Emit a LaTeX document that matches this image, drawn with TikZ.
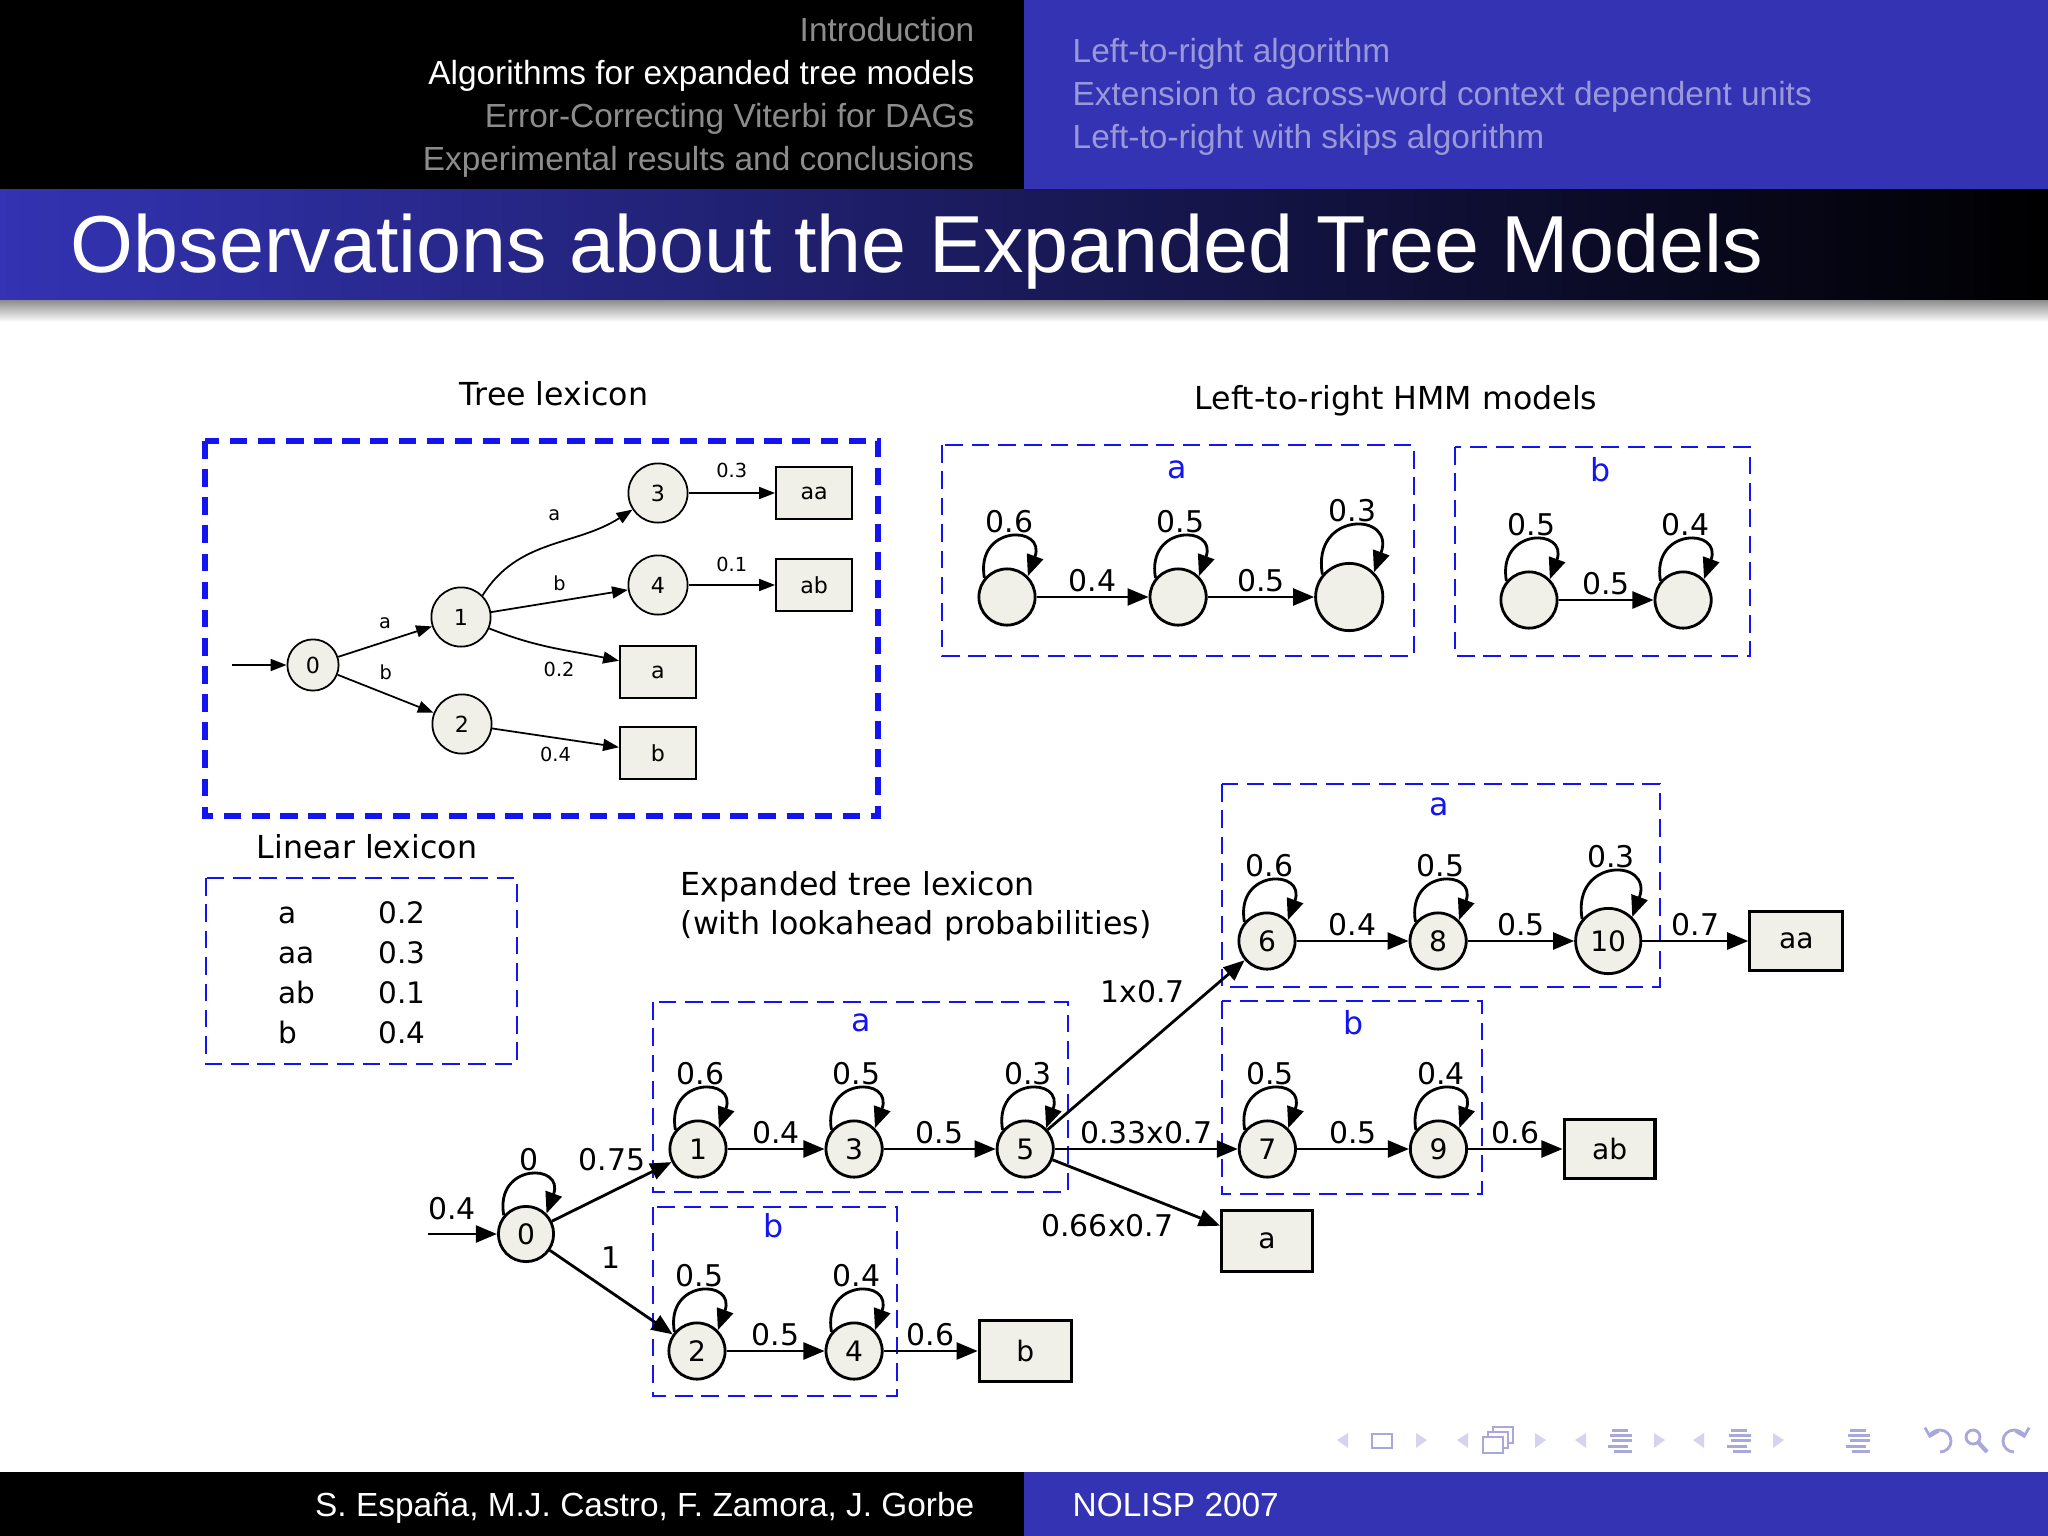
\documentclass[tikz,border=0pt]{standalone}
\usepackage{fontspec}
\setmainfont{DejaVu Sans}
\newfontfamily\slidefont{Liberation Sans}
\usetikzlibrary{arrows.meta, positioning, calc}
\definecolor{slideblue}{HTML}{3333B3}
\definecolor{boxblue}{HTML}{1414F0}
\definecolor{statefill}{HTML}{F0F0E8}
\definecolor{headgray}{HTML}{8C8C8C}
\definecolor{headlav}{HTML}{9999D9}
\definecolor{navlight}{HTML}{D4D4EE}
\definecolor{navdark}{HTML}{A8A8DA}
\tikzset{
  hdrtext/.style={font=\slidefont\fontsize{9.5}{11}\selectfont, inner sep=0pt},
  slidetitle/.style={font=\slidefont\fontsize{23}{26}\selectfont, text=white, inner sep=0pt},
  figtitle/.style={font=\fontsize{9}{11}\selectfont, inner sep=0pt},
  treestate/.style={circle, draw=black, line width=0.5pt, fill=statefill, minimum size=0.592cm,
    inner sep=0pt, font=\fontsize{6.3}{7}\selectfont},
  treeword/.style={rectangle, draw=black, line width=0.6pt, fill=statefill, minimum width=0.76cm,
    minimum height=0.52cm, inner sep=0pt, font=\fontsize{6.3}{7}\selectfont},
  treearrow/.style={-{Triangle[length=4.5pt, width=3.4pt]}, line width=0.5pt},
  treelabel/.style={font=\fontsize{5.5}{6}\selectfont, inner sep=1pt},
  hmmstate/.style={circle, draw=black, line width=0.8pt, fill=statefill, minimum size=0.562cm,
    inner sep=0pt, font=\fontsize{8}{9}\selectfont},
  hmmword/.style={rectangle, draw=black, line width=0.9pt, fill=statefill, minimum width=0.918cm,
    minimum height=0.59cm, inner sep=0pt, font=\fontsize{8}{9}\selectfont},
  hmmarrow/.style={-{Triangle[length=6pt, width=4.8pt]}, line width=0.8pt},
  hmmlabel/.style={font=\fontsize{8.5}{9}\selectfont, inner sep=1pt},
  unitlabel/.style={font=\fontsize{9}{10}\selectfont, text=boxblue, inner sep=0pt},
  selfloop/.style={out=100, in=70, looseness=3.2},
  unitbox/.style={draw=boxblue, line width=0.6pt, dash pattern=on 5pt off 2.5pt},
  lexbox/.style={draw=boxblue, line width=1.5pt, dash pattern=on 5pt off 3pt},
}
\begin{document}
\begin{tikzpicture}[x=0.01cm, y=0.01cm]
  \useasboundingbox (0,0) rectangle (2048,-1536);
  \fill[white] (0,0) rectangle (2048,-1536);

  % head line and frame title
  \fill[black] (0,0) rectangle (1024,-189);
  \fill[slideblue] (1024,0) rectangle (2048,-189);
  \node[hdrtext, text=headgray, anchor=base east] (sec1) at (975,-41) {Introduction};
  \node[hdrtext, text=white, anchor=base east] (sec2) at (975,-84) {Algorithms for expanded tree models};
  \node[hdrtext, text=headgray, anchor=base east] (sec3) at (975,-127) {Error-Correcting Viterbi for DAGs};
  \node[hdrtext, text=headgray, anchor=base east] (sec4) at (975,-170) {Experimental results and conclusions};
  \node[hdrtext, text=headlav, anchor=base west] (sub1) at (1072,-62) {Left-to-right algorithm};
  \node[hdrtext, text=headlav, anchor=base west] (sub2) at (1072,-105) {Extension to across-word context dependent units};
  \node[hdrtext, text=headlav, anchor=base west] (sub3) at (1072,-148) {Left-to-right with skips algorithm};
  \shade[left color=slideblue, right color=black] (0,-189) rectangle (2048,-300);
  \shade[top color=black!45, bottom color=white] (0,-300) rectangle (2048,-322);
  \node[slidetitle, anchor=base west] (title) at (70,-272) {Observations about the Expanded Tree Models};

  % tree lexicon
  \node[figtitle, anchor=base] (treetitle) at (554,-405) {Tree lexicon};
  \draw[lexbox] (205,-441) rectangle (878,-816);
  \coordinate (tin) at (232,-665);
  \node[treestate, minimum size=0.512cm] (t0) at (313,-665) {0};
  \node[treestate] (t1) at (461,-617) {1};
  \node[treestate] (t2) at (462,-724) {2};
  \node[treestate] (t3) at (658,-493) {3};
  \node[treestate] (t4) at (658,-585) {4};
  \node[treeword, right=0.865cm of t3] (taa) {aa};
  \node[treeword, right=0.865cm of t4] (tab) {ab};
  \node[treeword] (ta) at (658,-672) {a};
  \node[treeword] (tb) at (658,-753) {b};
  \draw[treearrow] (tin) -- (t0);
  \draw[treearrow] (t0) -- node[treelabel, above=2.4pt] {a} (t1);
  \draw[treearrow] (t0) -- node[treelabel, above=2.8pt] {b} (t2);
  \draw[treearrow] (t1.45) to[out=58, in=213] node[treelabel, pos=0.53, above=5pt] {a} (t3);
  \draw[treearrow] (t1) -- node[treelabel, above=1.7pt] {b} (t4);
  \draw[treearrow] (t1) to[out=-22, in=168] node[treelabel, pos=0.55, below=2.4pt] {0.2} (ta.164);
  \draw[treearrow] (t2) -- node[treelabel, below=1.5pt] {0.4} (tb);
  \draw[treearrow] (t3) -- node[treelabel, above=3pt] {0.3} (taa);
  \draw[treearrow] (t4) -- node[treelabel, above=2.4pt] {0.1} (tab);

  % left-to-right HMM models
  \node[figtitle, anchor=base] (hmmtitle) at (1396,-409) {Left-to-right HMM models};
  \draw[unitbox] (942,-445) rectangle (1414,-656);
  \draw[unitbox] (1455,-447) rectangle (1750,-656);
  \node[unitlabel] (hmmla) at (1177,-470) {a};
  \node[unitlabel] (hmmlb) at (1601,-470) {b};
  \node[hmmstate] (ha1) at (1007,-597) {};
  \node[hmmstate, right=1.12cm of ha1] (ha2) {};
  \node[hmmstate, minimum size=0.672cm, right=1.065cm of ha2] (ha3) {};
  \node[hmmstate] (hb1) at (1529,-600) {};
  \node[hmmstate, right=0.95cm of hb1] (hb2) {};
  \draw[hmmarrow] (ha1.140) to[selfloop] node[hmmlabel, above] {0.6} (ha1.45);
  \draw[hmmarrow] (ha2.140) to[selfloop] node[hmmlabel, above] {0.5} (ha2.45);
  \draw[hmmarrow] (ha3.140) to[selfloop] node[hmmlabel, above] {0.3} (ha3.45);
  \draw[hmmarrow] (hb1.140) to[selfloop] node[hmmlabel, above] {0.5} (hb1.45);
  \draw[hmmarrow] (hb2.140) to[selfloop] node[hmmlabel, above] {0.4} (hb2.45);
  \draw[hmmarrow] (ha1) -- node[hmmlabel, above] {0.4} (ha2);
  \draw[hmmarrow] (ha2) -- node[hmmlabel, above] {0.5} (ha3);
  \draw[hmmarrow] (hb1) -- node[hmmlabel, above] {0.5} (hb2);

  % linear lexicon
  \node[figtitle, anchor=base] (lintitle) at (367,-858) {Linear lexicon};
  \draw[unitbox] (206,-878) rectangle (517,-1064);
  \node[anchor=base west, inner sep=0pt, font=\fontsize{8.4}{11.4}\selectfont] (lintable) at (278,-923)
    {\begin{tabular}[t]{@{}p{28.4pt}@{}l@{}}a & 0.2\\ aa & 0.3\\ ab & 0.1\\ b & 0.4\end{tabular}};

  % expanded tree lexicon
  \node[figtitle, anchor=base west] (exptitle) at (680,-895) {Expanded tree lexicon};
  \node[figtitle, anchor=base west] (exptitle2) at (680,-934) {(with lookahead probabilities)};
  \draw[unitbox] (653,-1002) rectangle (1068,-1192);
  \draw[unitbox] (653,-1207) rectangle (897,-1396);
  \draw[unitbox] (1222,-784) rectangle (1660,-987);
  \draw[unitbox] (1222,-1001) rectangle (1482,-1194);
  \node[unitlabel] (unita1) at (861,-1023) {a};
  \node[unitlabel] (unitb1) at (774,-1226) {b};
  \node[unitlabel] (unita2) at (1439,-807) {a};
  \node[unitlabel] (unitb2) at (1354,-1023) {b};
  \coordinate (ein) at (428,-1234);
  \node[hmmstate, minimum size=0.552cm] (e0) at (526,-1234) {0};
  \node[hmmstate] (e1) at (698,-1149) {1};
  \node[hmmstate, right=0.97cm of e1] (e3) {3};
  \node[hmmstate, right=1.12cm of e3] (e5) {5};
  \node[hmmstate, right=1.83cm of e5] (e7) {7};
  \node[hmmstate, right=1.12cm of e7] (e9) {9};
  \node[hmmword, minimum width=0.908cm, right=0.945cm of e9] (eab) {ab};
  \node[hmmstate] (e2) at (697,-1351) {2};
  \node[hmmstate, right=0.98cm of e2] (e4) {4};
  \node[hmmword, right=0.94cm of e4, minimum height=0.61cm] (eb) {b};
  \node[hmmstate] (e6) at (1267,-941) {6};
  \node[hmmstate, right=1.12cm of e6] (e8) {8};
  \node[hmmstate, minimum size=0.652cm, right=1.065cm of e8] (e10) {10};
  \node[hmmword, minimum width=0.928cm, right=1.06cm of e10] (eaa) {aa};
  \node[hmmword, minimum width=0.908cm, minimum height=0.61cm] (ea) at (1267,-1241) {a};
  \draw[hmmarrow] (ein) -- node[hmmlabel, pos=0.35, above=2.5pt] {0.4} (e0);
  \draw[hmmarrow] (e0.140) to[selfloop] node[hmmlabel, above] {0} (e0.45);
  \draw[hmmarrow] (e0) -- node[hmmlabel, above=4.5pt] {0.75} (e1);
  \draw[hmmarrow] (e0) -- node[hmmlabel, above=5.5pt] {1} (e2);
  \draw[hmmarrow] (e1.140) to[selfloop] node[hmmlabel, above] {0.6} (e1.45);
  \draw[hmmarrow] (e3.140) to[selfloop] node[hmmlabel, above] {0.5} (e3.45);
  \draw[hmmarrow] (e5.140) to[selfloop] node[hmmlabel, above] {0.3} (e5.45);
  \draw[hmmarrow] (e1) -- node[hmmlabel, above] {0.4} (e3);
  \draw[hmmarrow] (e3) -- node[hmmlabel, above] {0.5} (e5);
  \draw[hmmarrow] (e2.140) to[selfloop] node[hmmlabel, above] {0.5} (e2.45);
  \draw[hmmarrow] (e4.140) to[selfloop] node[hmmlabel, above] {0.4} (e4.45);
  \draw[hmmarrow] (e2) -- node[hmmlabel, above] {0.5} (e4);
  \draw[hmmarrow] (e4) -- node[hmmlabel, above] {0.6} (eb);
  \draw[hmmarrow] (e5) -- node[hmmlabel, pos=0.72, above left] {1x0.7} (e6);
  \draw[hmmarrow] (e5) -- node[hmmlabel, above] {0.33x0.7} (e7);
  \draw[hmmarrow] (e5) -- node[hmmlabel, pos=0.75, below left] {0.66x0.7} (ea.162);
  \draw[hmmarrow] (e6.140) to[selfloop] node[hmmlabel, above] {0.6} (e6.45);
  \draw[hmmarrow] (e8.140) to[selfloop] node[hmmlabel, above] {0.5} (e8.45);
  \draw[hmmarrow] (e10.140) to[selfloop] node[hmmlabel, above] {0.3} (e10.45);
  \draw[hmmarrow] (e6) -- node[hmmlabel, above] {0.4} (e8);
  \draw[hmmarrow] (e8) -- node[hmmlabel, above] {0.5} (e10);
  \draw[hmmarrow] (e10) -- node[hmmlabel, above] {0.7} (eaa);
  \draw[hmmarrow] (e7.140) to[selfloop] node[hmmlabel, above] {0.5} (e7.45);
  \draw[hmmarrow] (e9.140) to[selfloop] node[hmmlabel, above] {0.4} (e9.45);
  \draw[hmmarrow] (e7) -- node[hmmlabel, above] {0.5} (e9);
  \draw[hmmarrow] (e9) -- node[hmmlabel, above] {0.6} (eab);

  % navigation symbols
  \foreach \x in {1337,1457,1575,1693}
    \fill[navlight] (\x,-1440) -- (\x+11,-1433) -- (\x+11,-1448) -- cycle;
  \foreach \x in {1416,1535,1654,1773}
    \fill[navlight] (\x+11,-1440) -- (\x,-1433) -- (\x,-1448) -- cycle;
  \draw[navdark, line width=0.7pt] (1372,-1434) rectangle (1392,-1448);
  \foreach \d in {10,5,0}
    \draw[navdark, line width=0.7pt, fill=white] (1483+\d,-1437+\d) rectangle (1503+\d,-1453+\d);
  \foreach \x in {1608,1727,1846}
    \foreach \y/\a/\b in {1430/4/20, 1435/2/24, 1440/4/24, 1446/0/20, 1451/6/24}
      \fill[navdark] (\x+\a,-\y-1.5) rectangle (\x+\b,-\y+1.5);
  \draw[navdark, line width=0.8pt, -{Straight Barb[length=2pt]}] (1940,-1452)
    arc[start angle=-90, end angle=165, radius=11];
  \draw[navdark, line width=0.8pt] (1973,-1437) circle[radius=7];
  \draw[navdark, line width=1.2pt] (1978,-1442) -- (1987,-1452);
  \draw[navdark, line width=0.8pt, -{Straight Barb[length=2pt]}] (2014,-1452)
    arc[start angle=270, end angle=15, radius=11];

  % foot line
  \fill[black] (0,-1472) rectangle (1024,-1536);
  \fill[slideblue] (1024,-1472) rectangle (2048,-1536);
  \node[hdrtext, text=white, anchor=base east] (authors) at (975,-1516) {S. España, M.J. Castro, F. Zamora, J. Gorbe};
  \node[hdrtext, text=white, anchor=base west] (event) at (1072,-1516) {NOLISP 2007};
\end{tikzpicture}
\end{document}
